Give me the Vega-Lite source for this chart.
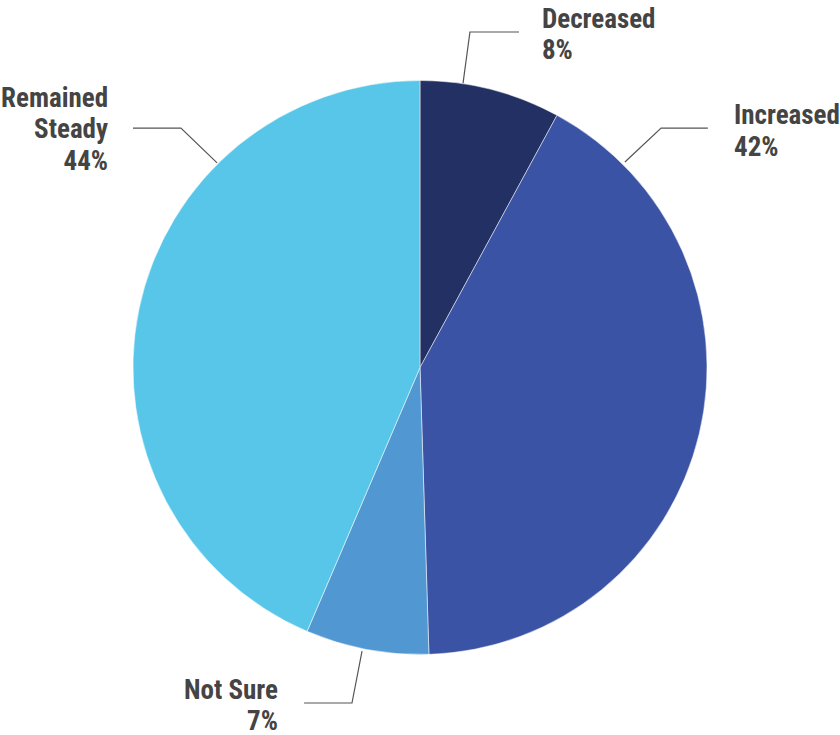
{
  "$schema": "https://vega.github.io/schema/vega-lite/v6.json",
  "width": 840,
  "height": 735,
  "autosize": {"type": "none"},
  "padding": 0,
  "background": "white",
  "config": {"view": {"stroke": null}},
  "datasets": {
    "slices": [
      {"category": "Decreased", "value": 8, "ord": 1},
      {"category": "Increased", "value": 42, "ord": 2},
      {"category": "Not Sure", "value": 7, "ord": 3},
      {"category": "Remained Steady", "value": 44, "ord": 4}
    ],
    "leaders": [
      {"category": "Decreased", "step": 1, "x": 0.150, "y": 0.991},
      {"category": "Decreased", "step": 2, "x": 0.174, "y": 1.169},
      {"category": "Decreased", "step": 3, "x": 0.345, "y": 1.169},
      {"category": "Increased", "step": 1, "x": 0.714, "y": 0.716},
      {"category": "Increased", "step": 2, "x": 0.840, "y": 0.834},
      {"category": "Increased", "step": 3, "x": 1.003, "y": 0.834},
      {"category": "Remained Steady", "step": 1, "x": -0.707, "y": 0.713},
      {"category": "Remained Steady", "step": 2, "x": -0.833, "y": 0.834},
      {"category": "Remained Steady", "step": 3, "x": -1.0, "y": 0.834},
      {"category": "Not Sure", "step": 1, "x": -0.202, "y": -0.988},
      {"category": "Not Sure", "step": 2, "x": -0.237, "y": -1.169},
      {"category": "Not Sure", "step": 3, "x": -0.404, "y": -1.169}
    ],
    "labels": [
      {"category": "Decreased", "lines": ["Decreased", "8%"], "side": "left", "x": 0.425, "y": 1.183},
      {"category": "Increased", "lines": ["Increased", "42%"], "side": "left", "x": 1.094, "y": 0.848},
      {"category": "Remained Steady", "lines": ["Remained", "Steady", "44%"], "side": "right", "x": -1.087, "y": 0.908},
      {"category": "Not Sure", "lines": ["Not Sure", "7%"], "side": "right", "x": -0.495, "y": -1.155}
    ]
  },
  "layer": [
    {
      "data": {"name": "slices"},
      "mark": {"type": "arc", "outerRadius": 287, "stroke": "#ffffff", "strokeWidth": 0.5},
      "encoding": {
        "theta": {"field": "value", "type": "quantitative", "stack": true},
        "order": {"field": "ord", "type": "quantitative"},
        "color": {
          "field": "category",
          "type": "nominal",
          "scale": {
            "domain": ["Decreased", "Increased", "Not Sure", "Remained Steady"],
            "range": ["#233064", "#3a53a4", "#5198d3", "#58c6e8"]
          },
          "legend": null
        }
      }
    },
    {
      "data": {"name": "leaders"},
      "mark": {"type": "line", "color": "#555555", "strokeWidth": 1.2},
      "encoding": {
        "x": {"field": "x", "type": "quantitative", "scale": {"domain": [-1.4634, 1.4634], "nice": false, "zero": false}, "axis": null},
        "y": {"field": "y", "type": "quantitative", "scale": {"domain": [-1.2805, 1.2805], "nice": false, "zero": false}, "axis": null},
        "detail": {"field": "category"},
        "order": {"field": "step", "type": "quantitative"}
      }
    },
    {
      "data": {"name": "labels"},
      "transform": [{"filter": "datum.side === 'left'"}],
      "mark": {"type": "text", "align": "left", "baseline": "alphabetic", "font": "Roboto Condensed", "fontWeight": "bold", "fontSize": 27, "lineHeight": 31.5, "color": "#444444"},
      "encoding": {
        "x": {"field": "x", "type": "quantitative", "scale": {"domain": [-1.4634, 1.4634], "nice": false, "zero": false}, "axis": null},
        "y": {"field": "y", "type": "quantitative", "scale": {"domain": [-1.2805, 1.2805], "nice": false, "zero": false}, "axis": null},
        "text": {"field": "lines"}
      }
    },
    {
      "data": {"name": "labels"},
      "transform": [{"filter": "datum.side === 'right'"}],
      "mark": {"type": "text", "align": "right", "baseline": "alphabetic", "font": "Roboto Condensed", "fontWeight": "bold", "fontSize": 27, "lineHeight": 31.5, "color": "#444444"},
      "encoding": {
        "x": {"field": "x", "type": "quantitative", "scale": {"domain": [-1.4634, 1.4634], "nice": false, "zero": false}, "axis": null},
        "y": {"field": "y", "type": "quantitative", "scale": {"domain": [-1.2805, 1.2805], "nice": false, "zero": false}, "axis": null},
        "text": {"field": "lines"}
      }
    }
  ]
}
